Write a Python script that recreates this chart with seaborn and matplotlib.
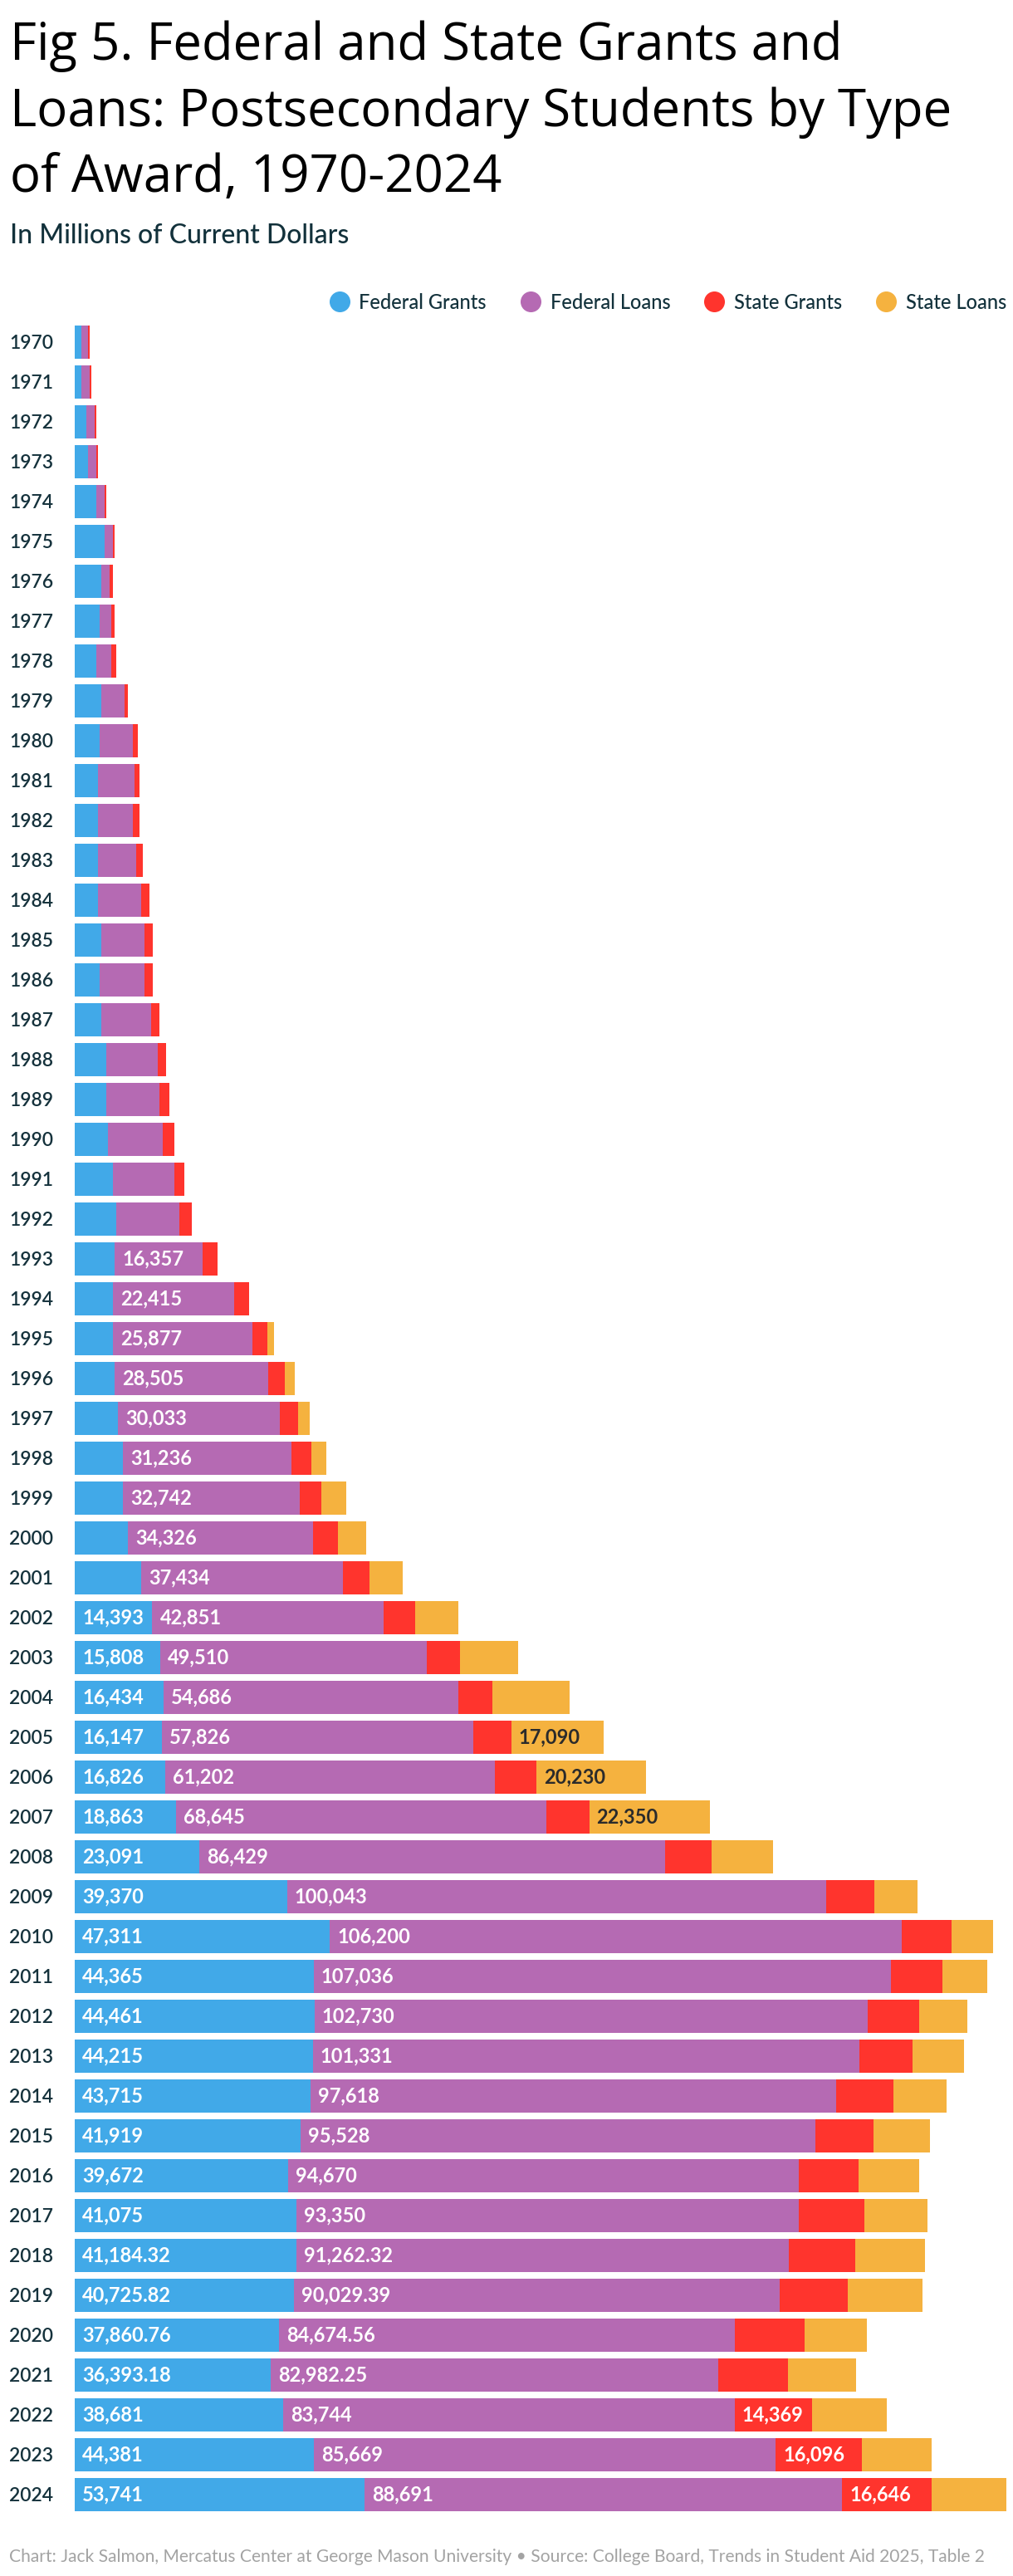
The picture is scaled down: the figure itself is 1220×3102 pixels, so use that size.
import numpy as np
import pandas as pd
import matplotlib
matplotlib.use("Agg")
import matplotlib.pyplot as plt
from matplotlib.lines import Line2D
import seaborn as sns

years = [str(y) for y in range(1970, 2025)]

federal_grants = [
    1237, 1237, 2165, 2474, 4021, 5567, 4948, 4639, 4021, 4948,
    4639, 4330, 4330, 4330, 4330, 4948, 4639, 4948, 5876, 5876,
    6186, 7113, 7732, 7423, 7110, 7110, 7419, 8037, 8964, 8964,
    9892, 12365, 14393, 15808, 16434, 16147, 16826, 18863, 23091, 39370,
    47311, 44365, 44461, 44215, 43715, 41919, 39672, 41075, 41184.32, 40725.82,
    37860.76, 36393.18, 38681, 44381, 53741,
]
federal_loans = [
    1237, 1546, 1546, 1546, 1546, 1546, 1546, 2165, 2784, 4330,
    6186, 6804, 6495, 7113, 8041, 8041, 8351, 9278, 9588, 9897,
    10206, 11443, 11753, 16357, 22415, 25877, 28505, 30033, 31236, 32742,
    34326, 37434, 42851, 49510, 54686, 57826, 61202, 68645, 86429, 100043,
    106200, 107036, 102730, 101331, 97618, 95528, 94670, 93350, 91262.32, 90029.39,
    84674.56, 82982.25, 83744, 85669, 88691,
]
state_grants = [
    309, 309, 309, 309, 309, 309, 619, 619, 928, 619,
    928, 928, 1237, 1237, 1546, 1546, 1546, 1546, 1546, 1856,
    2165, 1856, 2165, 2784, 2784, 2784, 3093, 3402, 3711, 4021,
    4639, 4948, 5919, 6184, 6449, 7067, 7686, 7951, 8657, 8984,
    9256, 9619, 9528, 9891, 10526, 10799, 11162, 12069, 12341, 12704,
    12976, 12976, 14369, 16096, 16646,
]
state_loans = [
    0, 0, 0, 0, 0, 0, 0, 0, 0, 0,
    0, 0, 0, 0, 0, 0, 0, 0, 0, 0,
    0, 0, 0, 0, 0, 1237, 1856, 2165, 2784, 4639,
    5258, 6186, 7951, 10777, 14223, 17090, 20230, 22350, 11434, 7985,
    7713, 8348, 8984, 9619, 9891, 10526, 11162, 11797, 13067, 13884,
    11434, 12704, 13884, 12923, 13846,
]

series_names = ["Federal Grants", "Federal Loans", "State Grants", "State Loans"]
colors = ["#41A9E8", "#B56AB3", "#FF342D", "#F5B23F"]
label_colors = ["white", "white", "white", "#2b2b2b"]
LABEL_MIN = 14300

df = pd.DataFrame({
    "year": years,
    "Federal Grants": federal_grants,
    "Federal Loans": federal_loans,
    "State Grants": state_grants,
    "State Loans": state_loans,
})
cum = df[series_names].cumsum(axis=1)
starts = cum - df[series_names]
for name in series_names:
    df["cum_" + name] = cum[name]

sns.set_theme(style="white")
plt.rcParams["font.family"] = ["Lato", "DejaVu Sans"]

W, H = 1220, 3102
fig = plt.figure(figsize=(W / 100, H / 100), dpi=100)
fig.patch.set_facecolor("white")

ax_top, ax_bot = 388, 3028
ax_left, ax_right = 90, 1220
ax = fig.add_axes([ax_left / W, 1 - ax_bot / H, (ax_right - ax_left) / W, (ax_bot - ax_top) / H])

# draw stacked bars back to front using cumulative totals
for name, col in reversed(list(zip(series_names, colors))):
    sns.barplot(data=df, y="year", x="cum_" + name, order=years, orient="h",
                color=col, saturation=1, width=0.83, ax=ax, errorbar=None,
                linewidth=0)

px_per_k = 6.49
ax.set_xlim(0, (ax_right - ax_left) / px_per_k * 1000)
ax.set_ylim(len(years) - 0.5, -0.5)

# value labels
for i in range(len(years)):
    for name, lc in zip(series_names, label_colors):
        v = df.loc[i, name]
        if v >= LABEL_MIN:
            txt = f"{v:,.0f}" if float(v).is_integer() else f"{v:,.2f}"
            ax.annotate(txt, xy=(starts.loc[i, name], i), xytext=(6.5, 0),
                        textcoords="offset points", ha="left", va="center",
                        fontsize=17, fontweight="bold", color=lc)

for s in ax.spines.values():
    s.set_visible(False)
ax.set_xticks([])
ax.set_xlabel("")
ax.set_ylabel("")
ax.tick_params(axis="y", length=0, pad=57, labelsize=16.5, labelcolor="#15323C")
for lbl in ax.get_yticklabels():
    lbl.set_ha("left")
    lbl.set_fontweight("semibold")

# title
title_lines = ["Fig 5. Federal and State Grants and",
               "Loans: Postsecondary Students by Type",
               "of Award, 1970-2024"]
for line, base in zip(title_lines, [72, 152, 231]):
    fig.text(12 / W, 1 - base / H, line, fontsize=44.5, color="black",
             va="baseline", ha="left", family=["Open Sans", "DejaVu Sans"])

fig.text(12 / W, 1 - 293 / H, "In Millions of Current Dollars", fontsize=23,
         color="#12313B", va="baseline", ha="left", fontweight="medium")

handles = [Line2D([], [], marker="o", linestyle="", markersize=17,
                  markerfacecolor=c, markeredgecolor=c) for c in colors]
fig.legend(handles, series_names, loc="center right",
           bbox_to_anchor=(1212 / W, 1 - 364 / H), ncol=4, frameon=False,
           handletextpad=0.5, columnspacing=1.75, handlelength=1.0,
           borderpad=0, borderaxespad=0, labelcolor="#12313B",
           prop={"weight": "medium", "size": 17})

fig.text(11 / W, 1 - 3085 / H,
         "Chart: Jack Salmon, Mercatus Center at George Mason University \u2022 Source: College Board, Trends in Student Aid 2025, Table 2",
         fontsize=15.1, color="#A3A3A3", va="baseline", ha="left")

fig.savefig("out.png", dpi=100, facecolor="white")
